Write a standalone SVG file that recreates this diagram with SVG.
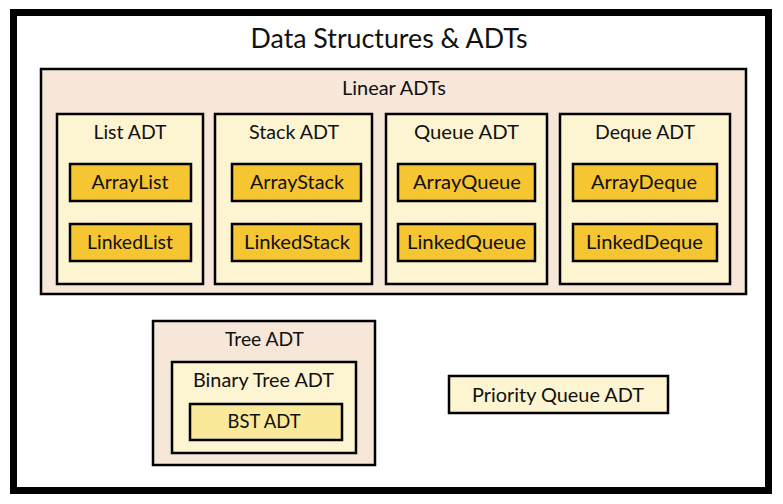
<svg xmlns="http://www.w3.org/2000/svg" width="783" height="504" viewBox="0 0 783 504">
<style>
.box{stroke:#000;stroke-width:2.5}
.tan{fill:#F6E7D8}
.cream{fill:#FDF4D2}
.gold{fill:#F6C532}
.pale{fill:#FAE89B}
text{font-family:Lato,"Open Sans","Liberation Sans",sans-serif;fill:#111;text-anchor:middle}
.lbl{font-size:18.5px}
.ttl{font-size:27px}
</style>
<rect width="783" height="504" fill="#fff"/>
<g id="root">
<rect x="13.5" y="12.5" width="755" height="478" fill="#fff" stroke="#000" stroke-width="7"/>
<text class="ttl" x="389" y="48" textLength="277" lengthAdjust="spacingAndGlyphs">Data Structures &amp; ADTs</text>
</g>
<g id="linear">
<rect class="box tan" x="41" y="69" width="705" height="225"/>
<text class="lbl" x="394" y="95" textLength="104" lengthAdjust="spacingAndGlyphs">Linear ADTs</text>
</g>
<g id="list">
<rect class="box cream" x="57" y="114" width="146" height="170"/>
<text class="lbl" x="130" y="139" textLength="73" lengthAdjust="spacingAndGlyphs">List ADT</text>
</g>
<g id="arraylist">
<rect class="box gold" x="70" y="164" width="121" height="37"/>
<text class="lbl" x="130" y="188.5" textLength="77" lengthAdjust="spacingAndGlyphs">ArrayList</text>
</g>
<g id="linkedlist">
<rect class="box gold" x="70" y="224" width="121" height="37"/>
<text class="lbl" x="130" y="249" textLength="86" lengthAdjust="spacingAndGlyphs">LinkedList</text>
</g>
<g id="stack">
<rect class="box cream" x="215" y="114" width="157" height="170"/>
<text class="lbl" x="294" y="139" textLength="90" lengthAdjust="spacingAndGlyphs">Stack ADT</text>
</g>
<g id="arraystack">
<rect class="box gold" x="232" y="164" width="129" height="37"/>
<text class="lbl" x="297" y="188.5" textLength="94" lengthAdjust="spacingAndGlyphs">ArrayStack</text>
</g>
<g id="linkedstack">
<rect class="box gold" x="232" y="224" width="129" height="37"/>
<text class="lbl" x="297" y="249" textLength="106" lengthAdjust="spacingAndGlyphs">LinkedStack</text>
</g>
<g id="queue">
<rect class="box cream" x="386" y="114" width="161" height="170"/>
<text class="lbl" x="466.5" y="139" textLength="105" lengthAdjust="spacingAndGlyphs">Queue ADT</text>
</g>
<g id="arrayqueue">
<rect class="box gold" x="398" y="164" width="137" height="37"/>
<text class="lbl" x="467" y="188.5" textLength="108" lengthAdjust="spacingAndGlyphs">ArrayQueue</text>
</g>
<g id="linkedqueue">
<rect class="box gold" x="398" y="224" width="137" height="37"/>
<text class="lbl" x="466.5" y="249" textLength="119" lengthAdjust="spacingAndGlyphs">LinkedQueue</text>
</g>
<g id="deque">
<rect class="box cream" x="560" y="114" width="170" height="170"/>
<text class="lbl" x="645" y="139" textLength="100" lengthAdjust="spacingAndGlyphs">Deque ADT</text>
</g>
<g id="arraydeque">
<rect class="box gold" x="573" y="164" width="144" height="37"/>
<text class="lbl" x="644" y="188.5" textLength="106" lengthAdjust="spacingAndGlyphs">ArrayDeque</text>
</g>
<g id="linkeddeque">
<rect class="box gold" x="573" y="224" width="144" height="37"/>
<text class="lbl" x="644.5" y="249" textLength="117" lengthAdjust="spacingAndGlyphs">LinkedDeque</text>
</g>
<g id="tree">
<rect class="box tan" x="153" y="321" width="222" height="144"/>
<text class="lbl" x="264.5" y="346" textLength="79" lengthAdjust="spacingAndGlyphs">Tree ADT</text>
</g>
<g id="binarytree">
<rect class="box cream" x="172" y="362" width="184" height="91"/>
<text class="lbl" x="263.5" y="387" textLength="141" lengthAdjust="spacingAndGlyphs">Binary Tree ADT</text>
</g>
<g id="bst">
<rect class="box pale" x="190" y="404" width="152" height="36"/>
<text class="lbl" x="264" y="428" textLength="73" lengthAdjust="spacingAndGlyphs">BST ADT</text>
</g>
<g id="priorityqueue">
<rect class="box cream" x="449" y="376" width="219" height="37"/>
<text class="lbl" x="558" y="401.5" textLength="172" lengthAdjust="spacingAndGlyphs">Priority Queue ADT</text>
</g>
<g id="connectors"></g>
</svg>
